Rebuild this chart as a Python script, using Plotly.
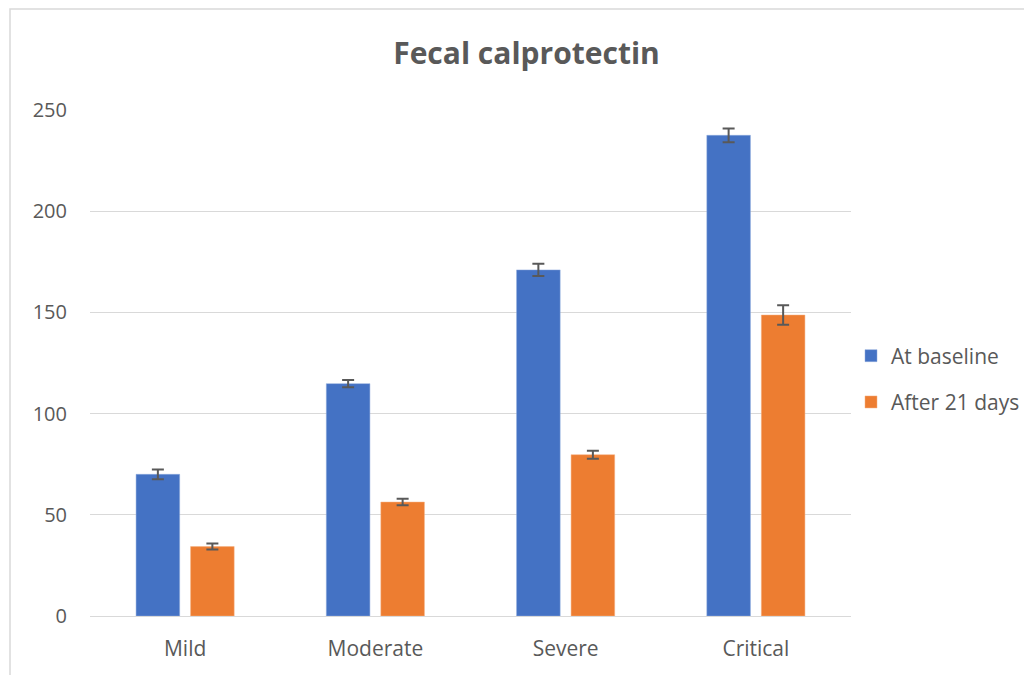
import plotly.graph_objects as go

categories = ["Mild", "Moderate", "Severe", "Critical"]
baseline = [70.0, 114.8, 171.0, 237.5]
baseline_err = [2.4, 1.8, 3.0, 3.4]
after21 = [34.3, 56.3, 79.7, 148.7]
after21_err = [1.5, 1.6, 2.0, 4.8]
y_ticks = [0, 50, 100, 150, 200, 250]

TXT = "#595959"
FONT = "Open Sans"

# page has an 8px body margin; figure placed so plot area lands at x 90-851, y 110-616 on page
W, H = 1024, 667
L, T = 82, 102
PW, PH = 761, 506

fig = go.Figure()
fig.add_trace(go.Bar(
    x=categories, y=baseline, name="At baseline", legendgroup="a",
    marker=dict(color="#4472C4", line=dict(color="#8FAADC", width=0.5)),
    error_y=dict(type="data", array=baseline_err, visible=True, color=TXT, thickness=2, width=6),
))
fig.add_trace(go.Bar(
    x=categories, y=after21, name="After 21 days", legendgroup="b",
    marker=dict(color="#ED7D31", line=dict(color="#F4B183", width=0.5)),
    error_y=dict(type="data", array=after21_err, visible=True, color=TXT, thickness=2, width=6),
))

fig.update_layout(
    width=W, height=H,
    margin=dict(l=L, r=W - L - PW, t=T, b=H - T - PH, pad=0, autoexpand=False),
    paper_bgcolor="white", plot_bgcolor="white",
    barmode="group", bargap=0.427, bargroupgap=0.2,
    title=dict(text="<b>Fecal calprotectin</b>", x=518.5 / W, xanchor="center",
               y=1 - 45 / H, yanchor="middle",
               font=dict(family=FONT, size=30, color=TXT)),
    font=dict(family=FONT, color=TXT, size=21),
    legend=dict(xref="container", yref="container",
                x=843 / W, xanchor="left", y=1 - 371 / H, yanchor="middle",
                font=dict(family=FONT, size=21, color=TXT),
                tracegroupgap=16, traceorder="grouped", itemwidth=30,
                bgcolor="rgba(0,0,0,0)"),
    showlegend=True,
)
fig.update_yaxes(range=[0, 250], tickvals=y_ticks, showgrid=True, gridcolor="#D9D9D9",
                 gridwidth=1, zeroline=False, showline=False, ticks="",
                 ticklabelstandoff=22, tickfont=dict(size=20, color=TXT))
fig.update_xaxes(showgrid=False, showline=True, linecolor="#D9D9D9", linewidth=1,
                 ticks="", ticklabelstandoff=14, tickfont=dict(size=21, color=TXT))

# outer chart border (light gray) as in reference
fig.add_shape(type="rect", xref="paper", yref="paper",
              x0=(2 - L) / PW, x1=(1040 - L) / PW,
              y0=(T + PH - 700) / PH, y1=(T + PH - 1) / PH,
              line=dict(color="#D9D9D9", width=1.5), fillcolor="rgba(0,0,0,0)", layer="below")

fig.write_html("out.html")
